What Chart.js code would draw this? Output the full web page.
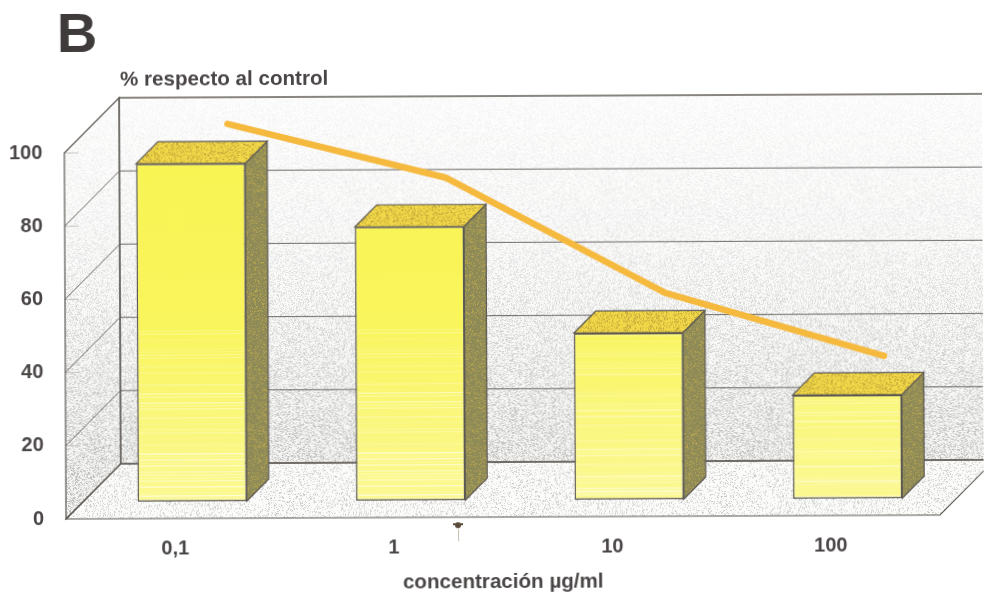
<!DOCTYPE html>
<html>
<head>
<meta charset="utf-8">
<style>
  html, body { margin: 0; padding: 0; background: #fff; overflow: hidden; }
  /* the printed figure sits very slightly tilted on the page */
  #chart { display: block; transform-origin: 66px 519px; transform: rotate(-0.26deg); }
</style>
<script src="https://cdn.jsdelivr.net/npm/chart.js@4"></script>
</head>
<body>
<canvas id="chart" width="984" height="597"></canvas>
<script>
const categories = ["0,1", "1", "10", "100"];
const barValues = [92.3, 74.8, 45.5, 28.3];
const lineValues = [93, 78, 46.3, 28.8];
const panelLetter = "B";
const yCaption = "% respecto al control";
const xCaption = "concentración µg/ml";

const textColor = "#4a4646";
const edgeColor = "#5c5853";
const wallDepth = 55;
const barShift = 17;
const barDepth = 22;
const lineShift = 54;

const ctx = document.getElementById("chart");

// stippled tile with soft dots, same dots every run
function grainTile(base, dot, density, strength) {
  const tile = document.createElement("canvas");
  tile.width = tile.height = 256;
  const t = tile.getContext("2d");
  if (base) {
    t.fillStyle = base;
    t.fillRect(0, 0, 256, 256);
  }
  for (let i = 0; i < 256; i++) {
    for (let j = 0; j < 256; j++) {
      const n = Math.sin(i * 127.1 + j * 311.7) * 43758.5453 + Math.cos(i * 269.5 + j * 183.3) * 24634.6345;
      const a = n - Math.floor(n);
      if (a < density) {
        t.fillStyle = "rgba(" + dot + "," + (strength * (0.35 + (0.65 * a) / density)).toFixed(2) + ")";
        t.fillRect(i, j, 1, 1);
      }
    }
  }
  return tile;
}

function polygon(c, pts, fill, stroke) {
  c.beginPath();
  pts.forEach((p, k) => (k ? c.lineTo(p[0], p[1]) : c.moveTo(p[0], p[1])));
  c.closePath();
  if (fill) {
    c.fillStyle = fill;
    c.fill();
  }
  if (stroke) {
    c.strokeStyle = stroke;
    c.lineWidth = 1.2;
    c.stroke();
  }
}

const room3d = {
  id: "room3d",
  beforeDatasetsDraw(chart) {
    const c = chart.ctx;
    const { left, right } = chart.chartArea;
    const y = chart.scales.y;
    const y0 = y.getPixelForValue(0);
    const y100 = y.getPixelForValue(100);
    const d = wallDepth;
    const wallDots = c.createPattern(grainTile(null, "105,105,105", 0.42, 0.5), "repeat");
    const floorDots = c.createPattern(grainTile(null, "120,120,120", 0.22, 0.42), "repeat");

    const back = [[left + d, y100 - d], [right + d, y100 - d], [right + d, y0 - d], [left + d, y0 - d]];
    const side = [[left, y100], [left + d, y100 - d], [left + d, y0 - d], [left, y0]];
    const floor = [[left, y0], [right, y0], [right + d, y0 - d], [left + d, y0 - d]];

    // walls: stipple fades out towards the top
    [back, side].forEach((face) => {
      polygon(c, face, "#f3f3f1");
      polygon(c, face, wallDots);
      const fade = c.createLinearGradient(0, y100 - d, 0, y0 - d);
      fade.addColorStop(0, "rgba(255,255,255,0.88)");
      fade.addColorStop(0.4, "rgba(255,255,255,0.66)");
      fade.addColorStop(1, "rgba(255,255,255,0.08)");
      polygon(c, face, fade);
    });
    polygon(c, floor, "#fbfbf9");
    polygon(c, floor, floorDots);

    // gridlines run along the left wall and then across the back one
    c.strokeStyle = "#6e6a66";
    c.lineWidth = 1;
    y.ticks.forEach((tick) => {
      const py = y.getPixelForValue(tick.value);
      c.beginPath();
      c.moveTo(left, py);
      c.lineTo(left + d, py - d);
      c.lineTo(right + d, py - d);
      c.stroke();
      if (tick.value > 0) {
        c.save();
        c.strokeStyle = "#c4c4c0";
        c.beginPath();
        c.moveTo(left, py);
        c.lineTo(left + 14, py);
        c.stroke();
        c.restore();
      }
    });

    polygon(c, back, null, edgeColor);
    polygon(c, side, null, edgeColor);
    polygon(c, floor, null, edgeColor);
  },
  beforeDatasetDraw(chart, args) {
    const c = chart.ctx;
    c.save();
    // bars stand mid-depth, the line lies on the back wall
    const shift = chart.data.datasets[args.index].type === "line" ? lineShift : barShift;
    c.translate(shift, -shift);
    if (args.index !== 0) return;

    const sideDots = c.createPattern(grainTile("#8d8a58", "225,190,70", 0.25, 0.6), "repeat");
    const topDots = c.createPattern(grainTile("#f2d848", "135,110,40", 0.32, 0.55), "repeat");
    const depth = barDepth;
    args.meta.data.forEach((bar) => {
      const l = bar.x - bar.width / 2;
      const r = bar.x + bar.width / 2;
      polygon(c, [[r, bar.y], [r + depth, bar.y - depth], [r + depth, bar.base - depth], [r, bar.base]], sideDots, edgeColor);
      polygon(c, [[l, bar.y], [l + depth, bar.y - depth], [r + depth, bar.y - depth], [r, bar.y]], topDots, edgeColor);
    });
  },
  afterDatasetDraw(chart, args) {
    const c = chart.ctx;
    if (args.index === 0) {
      // pale banding in the lower part of the front faces
      args.meta.data.forEach((bar) => {
        const l = bar.x - bar.width / 2 + 2;
        const w = bar.width - 4;
        for (let py = Math.max(bar.y + 2, 345); py < bar.base - 2; py += 3) {
          const n = Math.sin(py * 7.13) * 9631.7;
          const a = n - Math.floor(n);
          const low = (py - 345) / 160;
          c.fillStyle = "rgba(255,255,255," + (a * a * (0.35 + low * 0.75)).toFixed(2) + ")";
          c.fillRect(l, py, w, 1);
        }
      });
    }
    c.restore();
  },
  afterDraw(chart) {
    const c = chart.ctx;
    c.save();
    c.fillStyle = "#3f3b3b";
    c.textBaseline = "alphabetic";
    c.textAlign = "left";
    c.font = "bold 56px 'Liberation Sans'";
    c.fillText(panelLetter, 59, 52);
    c.fillStyle = textColor;
    c.font = "bold 20.6px 'Liberation Sans'";
    c.fillText(yCaption, 122, 86);
    // speck on the printed page below the axis
    c.fillStyle = "#5a4a3a";
    c.beginPath();
    c.arc(458, 527, 3, 0, Math.PI * 2);
    c.fill();
    c.fillRect(453, 525, 10, 2);
    c.fillStyle = "#c8c0b0";
    c.fillRect(458, 531, 1, 12);
    c.restore();
  },
};

const yellowFace = ctx.getContext("2d").createLinearGradient(0, 150, 0, 500);
yellowFace.addColorStop(0, "#f8f452");
yellowFace.addColorStop(0.55, "#f9f55c");
yellowFace.addColorStop(1, "#fbf88e");

const config = {
  type: "bar",
  data: {
    labels: categories,
    datasets: [
      {
        type: "bar",
        label: "barras",
        data: barValues,
        backgroundColor: yellowFace,
        borderColor: edgeColor,
        borderWidth: 1.5,
        borderSkipped: false,
        barPercentage: 0.5,
        categoryPercentage: 1,
        order: 2,
      },
      {
        type: "line",
        label: "línea",
        data: lineValues,
        borderColor: "#f5b93e",
        borderWidth: 6.5,
        borderCapStyle: "round",
        borderJoinStyle: "round",
        pointRadius: 0,
        tension: 0,
        clip: false,
        order: 1,
      },
    ],
  },
  options: {
    responsive: false,
    animation: false,
    layout: { padding: { top: 153, right: 44, left: 0, bottom: 0 } },
    plugins: { legend: { display: false }, tooltip: { enabled: false } },
    scales: {
      x: {
        grid: { display: false },
        border: { display: false },
        afterFit: (scale) => (scale.height = 78),
        ticks: {
          color: textColor,
          padding: 10,
          maxRotation: 0,
          font: { family: "'Liberation Sans'", weight: "bold", size: 20 },
        },
        title: {
          display: true,
          text: xCaption,
          color: textColor,
          padding: { top: 0, bottom: 0 },
          font: { family: "'Liberation Sans'", weight: "bold", size: 20.6 },
        },
      },
      y: {
        min: 0,
        max: 100,
        grid: { display: false },
        border: { display: false },
        afterFit: (scale) => (scale.width = 66),
        ticks: {
          stepSize: 20,
          color: textColor,
          padding: 14,
          font: { family: "'Liberation Sans'", weight: "bold", size: 20 },
        },
      },
    },
  },
  plugins: [room3d],
};

const chart = new Chart(ctx, config);
</script>
</body>
</html>
